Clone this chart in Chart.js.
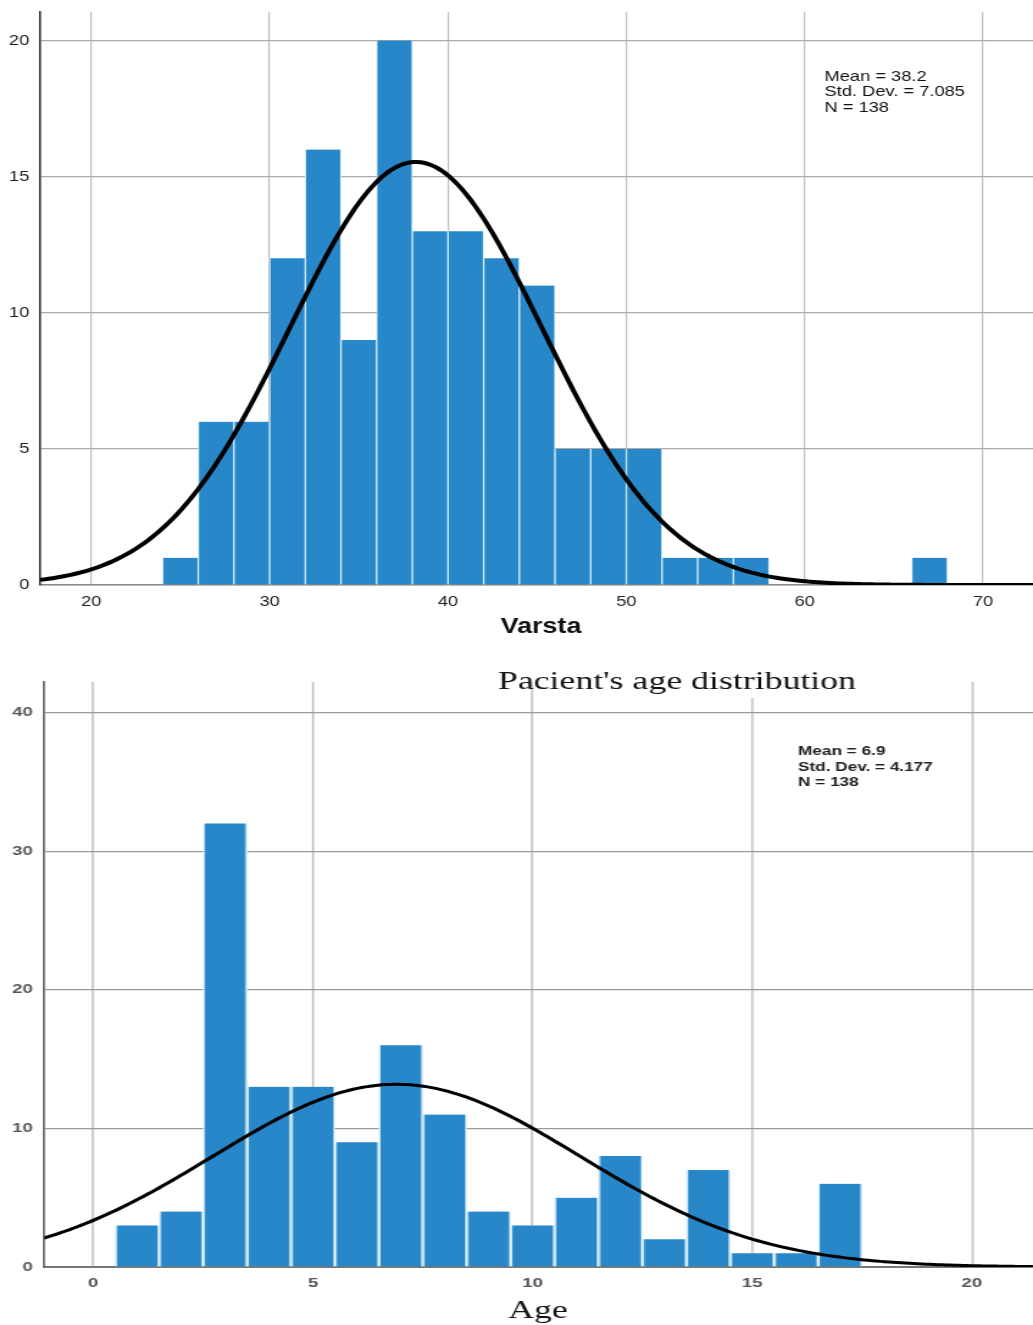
<!DOCTYPE html>
<html>
<head>
<meta charset="utf-8">
<script src="https://cdn.jsdelivr.net/npm/chart.js@4.4.1/dist/chart.umd.min.js"></script>
<style>
  html, body { margin: 0; padding: 0; background: #fff; }
  body { width: 1033px; height: 1325px; position: relative; overflow: hidden; }
  canvas { position: absolute; left: 0; transform-origin: 0 0; }
  /* the source picture is stretched sideways, so each canvas is too */
  #graficoVarsta { top: 0; transform: scale(1.2196, 1); }
  #graficoAge { top: 645px; transform: scale(1.4307, 1); }
</style>
</head>
<body>
<canvas id="graficoVarsta" width="847" height="645"></canvas>
<canvas id="graficoAge" width="722" height="680"></canvas>
<script>
// Varsta histogram (bins of 2 years, given by their centres)
const varstaBins = [25, 27, 29, 31, 33, 35, 37, 39, 41, 43, 45, 47, 49, 51, 53, 55, 57, 67];
const varstaCounts = [1, 6, 6, 12, 16, 9, 20, 13, 13, 12, 11, 5, 5, 5, 1, 1, 1, 1];
const varstaXTicks = [20, 30, 40, 50, 60, 70];
const varstaYTicks = [0, 5, 10, 15, 20];
const varstaStats = ["Mean = 38.2", "Std. Dev. = 7.085", "N = 138"];
const varstaMean = 38.2, varstaSd = 7.085, varstaN = 138, varstaBinWidth = 2;

// Age histogram (bins of 1 year)
const ageBins = [1, 2, 3, 4, 5, 6, 7, 8, 9, 10, 11, 12, 13, 14, 15, 16, 17];
const ageCounts = [3, 4, 32, 13, 13, 9, 16, 11, 4, 3, 5, 8, 2, 7, 1, 1, 6];
const ageXTicks = [0, 5, 10, 15, 20];
const ageYTicks = [0, 10, 20, 30, 40];
const ageStats = ["Mean = 6.9", "Std. Dev. = 4.177", "N = 138"];
const ageMean = 6.9, ageSd = 4.177, ageN = 138, ageBinWidth = 1;

const sans = "'Liberation Sans', Arial, sans-serif";
const serif = "'Liberation Serif', 'Times New Roman', serif";

Chart.defaults.font.family = sans;

// fitted normal curve as SPSS draws it: N * bin width * density
const normalCurve = (mean, sd, n, width, xmin, xmax) => {
  const pts = [];
  const steps = 240;
  for (let i = 0; i <= steps; i++) {
    const x = xmin + (xmax - xmin) * i / steps;
    const z = (x - mean) / sd;
    pts.push({ x, y: n * width * Math.exp(-0.5 * z * z) / (sd * Math.sqrt(2 * Math.PI)) });
  }
  return pts;
};

const fixedTicks = (values) => (scale) => {
  scale.ticks = values.map(v => ({ value: v }));
};

// fixed axis box, and no extra room asked for the end labels
const fixWidth = (w) => (s) => { s.width = w; s.paddingTop = 0; s.paddingBottom = 0; };
const fixHeight = (h) => (s) => { s.height = h; s.paddingLeft = 0; s.paddingRight = 0; };

// ---------- Varsta ----------
const vXmin = 17.14, vXmax = 72.8, vYmax = 21.05;

new Chart(document.getElementById("graficoVarsta"), {
  type: "bar",
  data: {
    datasets: [
      {
        type: "line",
        data: normalCurve(varstaMean, varstaSd, varstaN, varstaBinWidth, vXmin, vXmax),
        borderColor: "#000",
        borderWidth: 4,
        pointRadius: 0,
        tension: 0,
        order: 0
      },
      {
        data: varstaBins.map((x, i) => ({ x, y: varstaCounts[i] })),
        backgroundColor: "#2887c8",
        borderColor: "#d6ebf8",
        borderWidth: { left: 1, right: 1, top: 0, bottom: 0 },
        barPercentage: 1,
        categoryPercentage: 1,
        order: 1
      }
    ]
  },
  options: {
    responsive: false,
    animation: false,
    devicePixelRatio: 1,
    layout: { padding: { top: 12, right: 0, bottom: 0, left: 0 } },
    plugins: { legend: { display: false }, tooltip: { enabled: false } },
    scales: {
      x: {
        type: "linear",
        min: vXmin,
        max: vXmax,
        offset: false,
        afterBuildTicks: fixedTicks(varstaXTicks),
        afterFit: fixHeight(60),
        grid: { color: "#bdbdbd", lineWidth: 1.2, drawTicks: false, offset: false },
        border: { color: "#8a8a8a", width: 1.5 },
        ticks: { padding: 8, color: "#222", font: { size: 15 }, maxRotation: 0, autoSkip: false }
      },
      y: {
        min: 0,
        max: vYmax,
        afterBuildTicks: fixedTicks(varstaYTicks),
        afterFit: fixWidth(33),
        grid: { color: "#ababab", lineWidth: 1.2, drawTicks: false },
        border: { color: "#333", width: 1.6 },
        ticks: { padding: 9, color: "#222", font: { size: 15 }, autoSkip: false }
      }
    }
  },
  plugins: [{
    id: "textosVarsta",
    afterDraw(chart) {
      const ctx = chart.ctx;
      ctx.save();
      ctx.fillStyle = "#111";
      ctx.textBaseline = "alphabetic";
      ctx.textAlign = "left";
      ctx.font = `15px ${sans}`;
      varstaStats.forEach((t, i) => ctx.fillText(t, 676, 81 + i * 15.3));
      ctx.textAlign = "center";
      ctx.font = `bold 22px ${sans}`;
      ctx.fillText("Varsta", 443.6, 633);
      ctx.restore();
    }
  }]
});

// ---------- Age ----------
const aXmin = -1.115, aXmax = 21.39, aYmax = 42.2;

new Chart(document.getElementById("graficoAge"), {
  type: "bar",
  data: {
    datasets: [
      {
        type: "line",
        data: normalCurve(ageMean, ageSd, ageN, ageBinWidth, aXmin, aXmax),
        borderColor: "#000",
        borderWidth: 3,
        pointRadius: 0,
        tension: 0,
        order: 0
      },
      {
        data: ageBins.map((x, i) => ({ x, y: ageCounts[i] })),
        backgroundColor: "#2887c8",
        borderColor: "#d6ebf8",
        borderWidth: { left: 1.5, right: 1.5, top: 0, bottom: 0 },
        barPercentage: 1,
        categoryPercentage: 1,
        order: 1
      }
    ]
  },
  options: {
    responsive: false,
    animation: false,
    devicePixelRatio: 1,
    layout: { padding: { top: 37, right: 0, bottom: 0, left: 0 } },
    plugins: { legend: { display: false }, tooltip: { enabled: false } },
    scales: {
      x: {
        type: "linear",
        min: aXmin,
        max: aXmax,
        offset: false,
        afterBuildTicks: fixedTicks(ageXTicks),
        afterFit: fixHeight(58),
        grid: { color: "#c8c8c8", lineWidth: 1.6, drawTicks: false, offset: false },
        border: { color: "#777", width: 2 },
        ticks: { padding: 9, color: "#555", font: { size: 13, weight: "bold" }, maxRotation: 0, autoSkip: false }
      },
      y: {
        min: 0,
        max: aYmax,
        afterBuildTicks: fixedTicks(ageYTicks),
        afterFit: fixWidth(31),
        grid: { color: "#9a9a9a", lineWidth: 1.2, drawTicks: false },
        border: { color: "#555", width: 1.4 },
        ticks: { padding: 8, color: "#555", font: { size: 13, weight: "bold" }, autoSkip: false }
      }
    }
  },
  plugins: [{
    id: "textosAge",
    afterDraw(chart) {
      const ctx = chart.ctx;
      ctx.save();
      // the pasted title carries its own white background
      ctx.fillStyle = "#fff";
      ctx.fillRect(400, 0, 202, 53);
      ctx.fillStyle = "#111";
      ctx.textBaseline = "alphabetic";
      ctx.textAlign = "left";
      ctx.font = `25px ${serif}`;
      ctx.fillText("Pacient's age distribution", 348, 44);
      ctx.fillStyle = "#222";
      ctx.font = `bold 12px ${sans}`;
      ageStats.forEach((t, i) => ctx.fillText(t, 557.8, 110 + i * 15.7));
      ctx.fillStyle = "#111";
      ctx.textAlign = "center";
      ctx.font = `25px ${serif}`;
      ctx.fillText("Age", 376, 673);
      ctx.restore();
    }
  }]
});
</script>
</body>
</html>
